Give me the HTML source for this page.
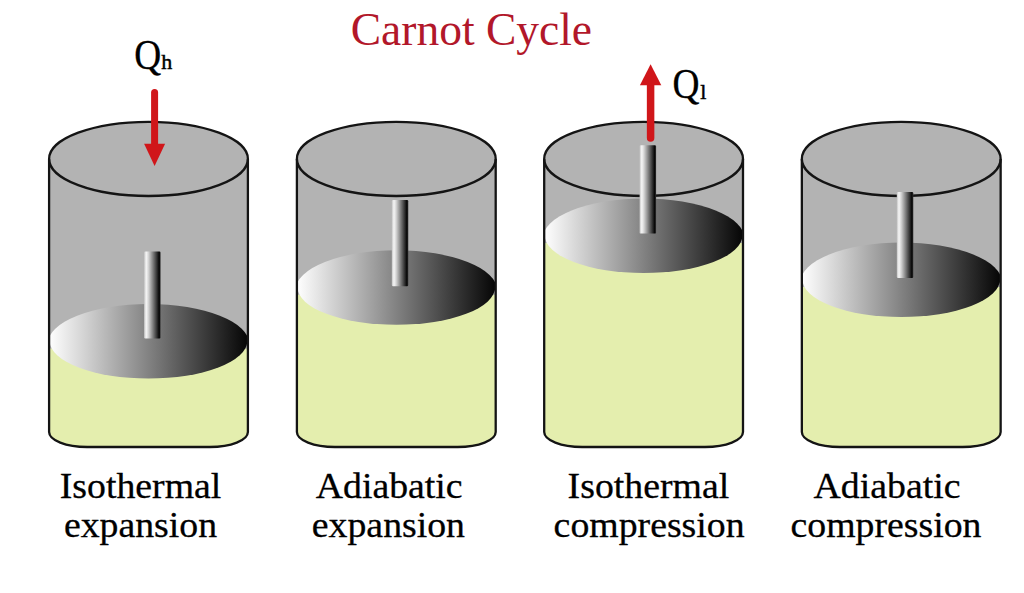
<!DOCTYPE html>
<html><head><meta charset="utf-8"><title>Carnot Cycle</title>
<style>html,body{margin:0;padding:0;background:#fff;}svg{display:block;}</style></head>
<body>
<svg width="1024" height="593" viewBox="0 0 1024 593">
<defs>
<linearGradient id="rg" x1="0" y1="0" x2="1" y2="0">
<stop offset="0" stop-color="#c4c4c4"/><stop offset="0.13" stop-color="#f6f6f6"/>
<stop offset="0.26" stop-color="#d6d6d6"/><stop offset="0.5" stop-color="#8a8a8a"/>
<stop offset="0.75" stop-color="#3a3a3a"/><stop offset="0.92" stop-color="#030303"/>
<stop offset="1" stop-color="#3a3a3a"/></linearGradient>
<linearGradient id="pg0" gradientUnits="userSpaceOnUse" x1="49.10" y1="0" x2="247.90" y2="0"><stop offset="0" stop-color="#ffffff"/><stop offset="1" stop-color="#050505"/></linearGradient>
<clipPath id="cb0"><path d="M49.10,158.9 L49.10,432.00 A38,15 0 0 0 87.10,447.0 L209.90,447.0 A38,15 0 0 0 247.90,432.00 L247.90,158.9 Z"/></clipPath>
<linearGradient id="pg1" gradientUnits="userSpaceOnUse" x1="296.90" y1="0" x2="495.70" y2="0"><stop offset="0" stop-color="#ffffff"/><stop offset="1" stop-color="#050505"/></linearGradient>
<clipPath id="cb1"><path d="M296.90,158.9 L296.90,432.00 A38,15 0 0 0 334.90,447.0 L457.70,447.0 A38,15 0 0 0 495.70,432.00 L495.70,158.9 Z"/></clipPath>
<linearGradient id="pg2" gradientUnits="userSpaceOnUse" x1="544.20" y1="0" x2="743.00" y2="0"><stop offset="0" stop-color="#ffffff"/><stop offset="1" stop-color="#050505"/></linearGradient>
<clipPath id="cb2"><path d="M544.20,158.9 L544.20,432.00 A38,15 0 0 0 582.20,447.0 L705.00,447.0 A38,15 0 0 0 743.00,432.00 L743.00,158.9 Z"/></clipPath>
<linearGradient id="pg3" gradientUnits="userSpaceOnUse" x1="801.85" y1="0" x2="1000.65" y2="0"><stop offset="0" stop-color="#ffffff"/><stop offset="1" stop-color="#050505"/></linearGradient>
<clipPath id="cb3"><path d="M801.85,158.9 L801.85,432.00 A38,15 0 0 0 839.85,447.0 L962.65,447.0 A38,15 0 0 0 1000.65,432.00 L1000.65,158.9 Z"/></clipPath>
</defs>
<rect width="1024" height="593" fill="#fff"/>
<path d="M49.10,158.9 L49.10,432.00 A38,15 0 0 0 87.10,447.0 L209.90,447.0 A38,15 0 0 0 247.90,432.00 L247.90,158.9 Z" fill="#b3b3b3"/>
<rect x="47.10" y="348.50" width="202.8" height="103.50" fill="#e4eeae" clip-path="url(#cb0)"/>
<g clip-path="url(#cb0)" fill="url(#pg0)"><path d="M47.60,344.00 A100.90,40.0 0 0 1 249.40,344.00 Z"/><path d="M49.70,341.00 A98.80,37.5 0 0 0 247.30,341.00 Z"/></g>
<ellipse cx="148.50" cy="158.9" rx="99.4" ry="37.1" fill="#b3b3b3" stroke="#141414" stroke-width="2.3"/>
<rect x="144.1" y="251.5" width="16.50" height="87.00" rx="1.2" fill="url(#rg)"/>
<path d="M49.10,158.9 L49.10,432.00 A38,15 0 0 0 87.10,447.0 L209.90,447.0 A38,15 0 0 0 247.90,432.00 L247.90,158.9" fill="none" stroke="#141414" stroke-width="2.3"/>
<path d="M296.90,158.9 L296.90,432.00 A38,15 0 0 0 334.90,447.0 L457.70,447.0 A38,15 0 0 0 495.70,432.00 L495.70,158.9 Z" fill="#b3b3b3"/>
<rect x="294.90" y="294.80" width="202.8" height="157.20" fill="#e4eeae" clip-path="url(#cb1)"/>
<g clip-path="url(#cb1)" fill="url(#pg1)"><path d="M295.40,290.30 A100.90,40.0 0 0 1 497.20,290.30 Z"/><path d="M297.50,287.30 A98.80,37.5 0 0 0 495.10,287.30 Z"/></g>
<ellipse cx="396.30" cy="158.9" rx="99.4" ry="37.1" fill="#b3b3b3" stroke="#141414" stroke-width="2.3"/>
<rect x="391.8" y="200.1" width="16.50" height="86.10" rx="1.2" fill="url(#rg)"/>
<path d="M296.90,158.9 L296.90,432.00 A38,15 0 0 0 334.90,447.0 L457.70,447.0 A38,15 0 0 0 495.70,432.00 L495.70,158.9" fill="none" stroke="#141414" stroke-width="2.3"/>
<path d="M544.20,158.9 L544.20,432.00 A38,15 0 0 0 582.20,447.0 L705.00,447.0 A38,15 0 0 0 743.00,432.00 L743.00,158.9 Z" fill="#b3b3b3"/>
<rect x="542.20" y="243.00" width="202.8" height="209.00" fill="#e4eeae" clip-path="url(#cb2)"/>
<g clip-path="url(#cb2)" fill="url(#pg2)"><path d="M542.70,238.50 A100.90,40.0 0 0 1 744.50,238.50 Z"/><path d="M544.80,235.50 A98.80,37.5 0 0 0 742.40,235.50 Z"/></g>
<ellipse cx="643.60" cy="158.9" rx="99.4" ry="37.1" fill="#b3b3b3" stroke="#141414" stroke-width="2.3"/>
<rect x="639.6" y="145.2" width="16.50" height="88.40" rx="1.2" fill="url(#rg)"/>
<path d="M544.20,158.9 L544.20,432.00 A38,15 0 0 0 582.20,447.0 L705.00,447.0 A38,15 0 0 0 743.00,432.00 L743.00,158.9" fill="none" stroke="#141414" stroke-width="2.3"/>
<path d="M801.85,158.9 L801.85,432.00 A38,15 0 0 0 839.85,447.0 L962.65,447.0 A38,15 0 0 0 1000.65,432.00 L1000.65,158.9 Z" fill="#b3b3b3"/>
<rect x="799.85" y="287.00" width="202.8" height="165.00" fill="#e4eeae" clip-path="url(#cb3)"/>
<g clip-path="url(#cb3)" fill="url(#pg3)"><path d="M800.35,282.50 A100.90,40.0 0 0 1 1002.15,282.50 Z"/><path d="M802.45,279.50 A98.80,37.5 0 0 0 1000.05,279.50 Z"/></g>
<ellipse cx="901.25" cy="158.9" rx="99.4" ry="37.1" fill="#b3b3b3" stroke="#141414" stroke-width="2.3"/>
<rect x="896.8" y="192.1" width="16.50" height="85.90" rx="1.2" fill="url(#rg)"/>
<path d="M801.85,158.9 L801.85,432.00 A38,15 0 0 0 839.85,447.0 L962.65,447.0 A38,15 0 0 0 1000.65,432.00 L1000.65,158.9" fill="none" stroke="#141414" stroke-width="2.3"/>
<line x1="154.6" y1="92.5" x2="154.6" y2="148" stroke="#d0161a" stroke-width="7" stroke-linecap="round"/>
<path d="M144.1,143.8 L165.1,143.8 L154.6,166 Z" fill="#d0161a"/>
<line x1="650.6" y1="80" x2="650.6" y2="138" stroke="#d0161a" stroke-width="7.5" stroke-linecap="round"/>
<path d="M639.9,85.3 L661.3000000000001,85.3 L650.6,64.2 Z" fill="#d0161a"/>

<text x="471.4" y="45.2" font-family="'Liberation Serif', serif" font-size="45.5" fill="#b2172a" text-anchor="middle">Carnot Cycle</text>
<text transform="translate(134.3,69.2) scale(0.9,1)" font-family="'Liberation Serif', serif" font-size="41.5" fill="#000" stroke="#000" stroke-width="0.3">Q</text>
<text x="161.3" y="69.1" font-family="'Liberation Serif', serif" font-size="22" fill="#000" stroke="#000" stroke-width="0.45">h</text>
<text transform="translate(672.6,97.9) scale(0.9,1)" font-family="'Liberation Serif', serif" font-size="41.5" fill="#000" stroke="#000" stroke-width="0.3">Q</text>
<text x="700.3" y="99.2" font-family="'Liberation Serif', serif" font-size="22" fill="#000" stroke="#000" stroke-width="0.45">l</text>
<g font-family="'Liberation Serif', serif" font-size="37.8" fill="#000" stroke="#000" stroke-width="0.3" text-anchor="middle">
<text transform="translate(140.5,497.5) scale(1,0.97)">Isothermal</text>
<text transform="translate(140.5,536.6) scale(1,0.97)">expansion</text>
<text transform="translate(389.2,497.5) scale(1,0.97)">Adiabatic</text>
<text transform="translate(388.4,536.6) scale(1,0.97)">expansion</text>
<text transform="translate(648.4,497.5) scale(1,0.97)">Isothermal</text>
<text transform="translate(649.1,536.6) scale(1,0.97)">compression</text>
<text transform="translate(887,497.5) scale(1,0.97)">Adiabatic</text>
<text transform="translate(886,536.6) scale(1,0.97)">compression</text>
</g>

</svg>
</body></html>
